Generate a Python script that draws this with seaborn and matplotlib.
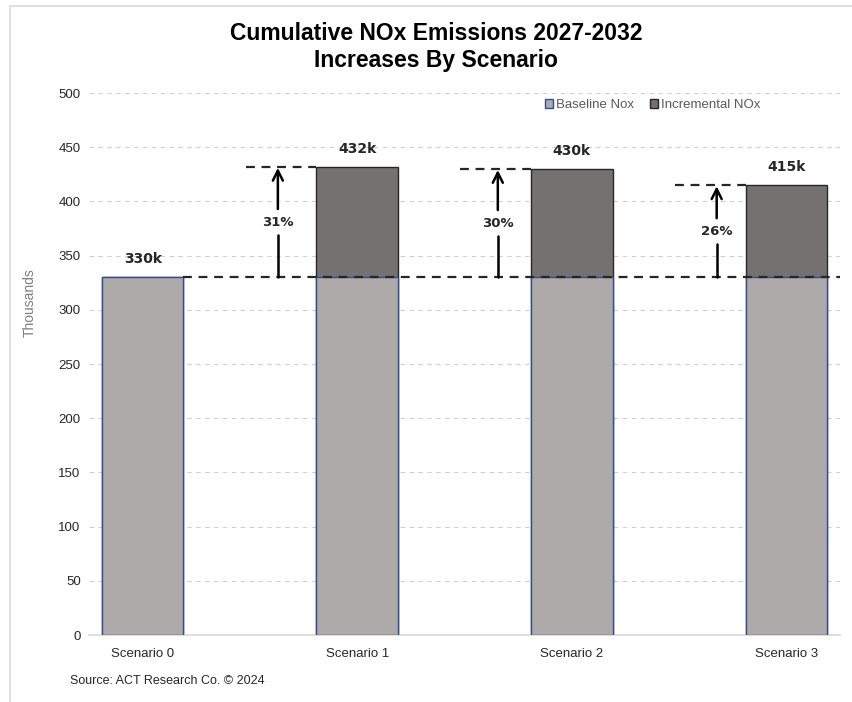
import pandas as pd
import matplotlib.pyplot as plt
import seaborn as sns
from matplotlib.patches import Patch
from matplotlib.lines import Line2D

# data (thousands)
scenarios = ['Scenario 0', 'Scenario 1', 'Scenario 2', 'Scenario 3']
baseline_nox = [330, 330, 330, 330]
incremental_nox = [0, 102, 100, 85]
total_labels = ['330k', '432k', '430k', '415k']
pct_labels = ['', '31%', '30%', '26%']
y_ticks = [0, 50, 100, 150, 200, 250, 300, 350, 400, 450, 500]

# layout: arrow x offset from each bar centre
arrow_offsets = [0, -0.37, -0.345, -0.325]

df = pd.DataFrame({
    'scenario': scenarios,
    'baseline': baseline_nox,
    'incremental': incremental_nox,
})
df['total'] = df['baseline'] + df['incremental']

sns.set_style('white')
plt.rcParams['font.family'] = ['Liberation Sans', 'DejaVu Sans']

fig = plt.figure(figsize=(8.52, 7.02), dpi=100)
ax = fig.add_axes([0.1045, 0.0954, 0.8815, 0.7721])

base_col = '#AEAAAA'
inc_col = '#767171'
edge_blue = '#2F4F8F'

sns.barplot(data=df, x='scenario', y='total', color=inc_col, width=0.38,
            edgecolor='#262626', linewidth=1.0, saturation=1, ax=ax, zorder=2)
sns.barplot(data=df, x='scenario', y='baseline', color=base_col, width=0.38,
            edgecolor=edge_blue, linewidth=1.0, saturation=1, ax=ax, zorder=3)

ax.set_xlim(-0.25, 3.25)
ax.set_ylim(0, 500)
ax.set_yticks(y_ticks)
ax.yaxis.grid(True, linestyle=(0, (4, 4)), color='#D0D0D0', linewidth=0.8)
ax.set_axisbelow(True)
for s in ['top', 'right', 'left']:
    ax.spines[s].set_visible(False)
ax.spines['bottom'].set_color('#D9D9D9')
ax.spines['bottom'].set_linewidth(1.2)
ax.tick_params(axis='both', length=0, labelsize=9.5, colors='#262626')
ax.tick_params(axis='x', pad=9)
ax.tick_params(axis='y', pad=6)
ax.set_xlabel('')
ax.set_ylabel('Thousands', fontsize=10, color='#7F7F7F')
ax.yaxis.set_label_coords(-0.069, 0.614)

# value labels
for i, row in df.iterrows():
    ax.text(i, row['total'] + 10, total_labels[i], ha='center', va='bottom',
            fontsize=10, fontweight='bold', color='#262626',
            family=['DejaVu Sans'], zorder=5)

# baseline dashed reference
base = baseline_nox[0]
ax.plot([0.19, 3.25], [base, base], color='#262626', linestyle=(0, (4, 3)),
        linewidth=1.6, zorder=4, clip_on=False)

# increase arrows
for i in range(1, len(scenarios)):
    top = df.loc[i, 'total']
    arr_x = i + arrow_offsets[i]
    ax.plot([i - 0.52, i - 0.19], [top, top], color='#262626',
            linestyle=(0, (4, 3)), linewidth=1.6, zorder=4)
    mid = (base + top) / 2
    gap = 12
    ax.plot([arr_x, arr_x], [base, mid - gap], color='black', linewidth=1.8, zorder=4)
    ax.annotate('', xy=(arr_x, top - 1), xytext=(arr_x, mid + gap),
                arrowprops=dict(arrowstyle='->', color='black', lw=1.8,
                                mutation_scale=18, shrinkA=0, shrinkB=0),
                zorder=4)
    ax.text(arr_x, mid, pct_labels[i], ha='center', va='center', fontsize=9.5,
            fontweight='bold', color='#262626', family=['DejaVu Sans'], zorder=5)

# legend
handles = [Patch(facecolor=base_col, edgecolor=edge_blue, label='Baseline Nox'),
           Patch(facecolor=inc_col, edgecolor='#262626', label='Incremental NOx')]
leg = ax.legend(handles=handles, loc='center left',
                bbox_to_anchor=(545 / 852, 1 - 105 / 702),
                bbox_transform=fig.transFigure, borderaxespad=0, borderpad=0,
                ncol=2, frameon=False, fontsize=9.5, handlelength=0.6,
                handleheight=0.6, handletextpad=0.25, columnspacing=1.2)
for t in leg.get_texts():
    t.set_color('#595959')

fig.text(436 / 852, 1 - 33.5 / 702, 'Cumulative NOx Emissions 2027-2032', ha='center',
         va='center', fontsize=16.5, fontweight='bold', color='black')
fig.text(436 / 852, 1 - 60 / 702, 'Increases By Scenario', ha='center', va='center',
         fontsize=16.5, fontweight='bold', color='black')
fig.text(70 / 852, 1 - 681 / 702, 'Source: ACT Research Co. \u00a9 2024', ha='left',
         va='center', fontsize=9, color='#262626')

# outer frame
fig.add_artist(Line2D([10 / 852, 10 / 852], [0, 1 - 6 / 702], color='#D9D9D9', lw=1.2))
fig.add_artist(Line2D([10 / 852, 1], [1 - 6 / 702, 1 - 6 / 702], color='#D9D9D9', lw=1.2))

fig.savefig('out.png', dpi=100)
